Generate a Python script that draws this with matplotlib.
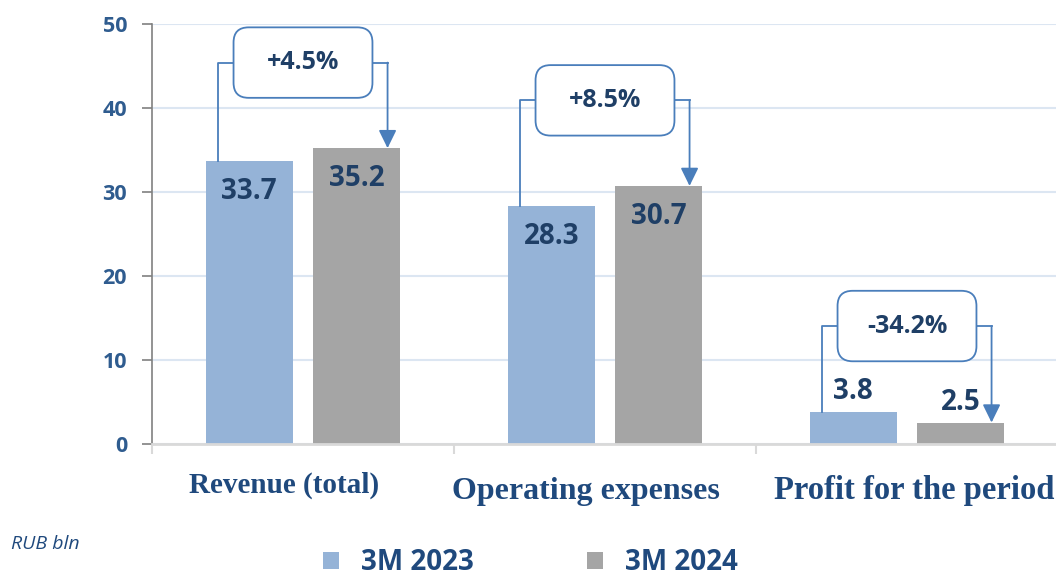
import matplotlib
matplotlib.use("Agg")
import matplotlib.pyplot as plt
from matplotlib.patches import FancyBboxPatch
import numpy as np

# values, RUB bln
categories = ["Revenue (total)", "Operating expenses", "Profit for the period"]
series_names = ["3M 2023", "3M 2024"]
values_2023 = [33.7, 28.3, 3.8]
values_2024 = [35.2, 30.7, 2.5]
changes = ["+4.5%", "+8.5%", "-34.2%"]
y_ticks = [0, 10, 20, 30, 40, 50]

blue = "#95B3D7"
grey = "#A5A5A5"
line_blue = "#4A7EBB"
navy = "#1F3F66"
tick_blue = "#2F5C8F"
cat_blue = "#1F497D"

plt.rcParams["font.family"] = ["Open Sans", "DejaVu Sans"]

fig = plt.figure(figsize=(10.56, 5.74), dpi=100)
ax = fig.add_axes([152 / 1056, 130.5 / 574, 906 / 1056, 419.5 / 574])

x = np.arange(len(categories))
width = 0.288
offset = 0.178

bars1 = ax.bar(x - offset, values_2023, width, color=blue, label=series_names[0], zorder=2)
bars2 = ax.bar(x + offset, values_2024, width, color=grey, label=series_names[1], zorder=2)

ax.set_xlim(-0.5, 2.5)
ax.set_ylim(0, 50)
ax.set_yticks(y_ticks)
ax.set_yticklabels([str(t) for t in y_ticks], fontsize=15.5, fontweight="bold", color=tick_blue)
ax.yaxis.grid(True, color="#DCE6F2", linewidth=1.5, zorder=0)
ax.set_axisbelow(True)

# category labels drawn as text so each can sit where the original has it
ax.set_xticks(x)
ax.set_xticklabels([])
ax.set_xticks([-0.5, 0.5, 1.5, 2.5], minor=True)
ax.tick_params(axis="x", which="major", length=0)
ax.tick_params(axis="x", which="minor", length=7, width=1.5, color="#D9D9D9", direction="out")
ax.tick_params(axis="y", length=7, width=1.2, color="#808080", pad=11)

cat_sizes = [21, 23, 23.5]
cat_dx = [-19, -19.5, 7.5]
cat_dy = [-49.5, -56, -56]
for i, cat in enumerate(categories):
    ax.annotate(cat, xy=(x[i], 0), xycoords=("data", "axes fraction"),
                xytext=(cat_dx[i], cat_dy[i]), textcoords="offset pixels",
                ha="center", va="baseline", family="Liberation Serif",
                fontsize=cat_sizes[i], fontweight="bold", color=cat_blue, annotation_clip=False)

for side in ["top", "right"]:
    ax.spines[side].set_visible(False)
ax.spines["left"].set_color("#808080")
ax.spines["left"].set_linewidth(1.2)
ax.spines["bottom"].set_color("#D9D9D9")
ax.spines["bottom"].set_linewidth(2)

# value labels: inside the bar when tall, above when short
for bars in (bars1, bars2):
    for b in bars:
        h = b.get_height()
        cx = b.get_x() + b.get_width() / 2
        if h > 10:
            ax.annotate(f"{h:.1f}", (cx, h), xytext=(0, -22), textcoords="offset points",
                        ha="center", va="center", fontsize=20, fontweight="bold", color=navy, zorder=4)
        else:
            ax.annotate(f"{h:.1f}", (cx, h), xytext=(0, 4), textcoords="offset points",
                        ha="center", va="bottom", fontsize=20, fontweight="bold", color=navy, zorder=4)

# change callouts
box_w = 0.46
box_h = 8.4
for i, label in enumerate(changes):
    top = max(values_2023[i], values_2024[i])
    yc = top + 10.2
    xl = x[i] - 0.28
    xr = x[i] + 0.28
    bl = x[i] - box_w / 2
    br = x[i] + box_w / 2
    ax.plot([xl, xl, bl], [values_2023[i], yc, yc], color=line_blue, lw=1.3, zorder=3)
    ax.plot([br, xr], [yc, yc], color=line_blue, lw=1.3, zorder=3)
    ax.annotate("", xy=(xr, values_2024[i]), xytext=(xr, yc),
                arrowprops=dict(arrowstyle="-|>,head_length=0.55,head_width=0.27", color=line_blue,
                                lw=1.3, shrinkA=0, shrinkB=0, mutation_scale=20), zorder=3)
    box = FancyBboxPatch((bl, yc - box_h / 2), box_w, box_h,
                         boxstyle="round,pad=0,rounding_size=0.05", mutation_aspect=36,
                         facecolor="white", edgecolor=line_blue, lw=1.3, zorder=4)
    ax.add_patch(box)
    ax.text(x[i], yc, label, ha="center", va="center", fontsize=18, fontweight="bold",
            color=navy, zorder=5)

fig.text(11 / 1056, 1 - 544 / 574, "RUB bln", fontsize=14, style="italic", color=cat_blue,
         va="center", ha="left")

fig.legend(handles=[bars1, bars2], labels=series_names, loc="center left",
           bbox_to_anchor=(323 / 1056, 0.02), ncol=2, frameon=False,
           prop={"size": 20, "weight": "bold"}, labelcolor=cat_blue,
           handlelength=0.58, handleheight=0.58, handletextpad=0.8, columnspacing=4.05,
           borderpad=0, borderaxespad=0)

fig.savefig("out.png", dpi=100)
